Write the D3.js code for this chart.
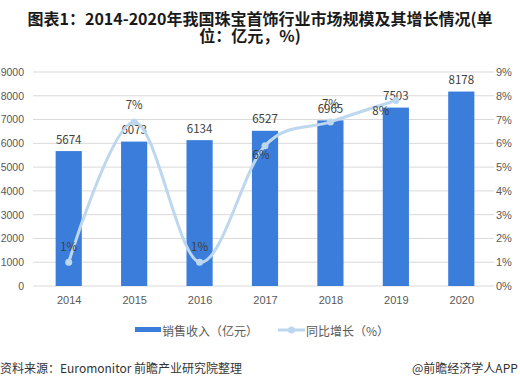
<!DOCTYPE html>
<html>
<head>
<meta charset="utf-8">
<script src="https://cdn.jsdelivr.net/npm/d3@7"></script>
<style>
  body { margin: 0; background: #fff; }
  svg { display: block; font-family: "Noto Sans CJK SC", "Noto Sans", sans-serif; }
</style>
</head>
<body>
<div id="chart"></div>
<script>
// chart data
const years = ['2014', '2015', '2016', '2017', '2018', '2019', '2020'];
const revenue = [5674, 6073, 6134, 6527, 6965, 7503, 8178];
const growth = [1.0, 6.9, 1.0, 5.9, 6.9, 7.8];
const growthLabels = ['1%', '7%', '1%', '6%', '7%', '8%'];
const leftTicks = [0, 1000, 2000, 3000, 4000, 5000, 6000, 7000, 8000, 9000];
const rightTicks = [0, 1, 2, 3, 4, 5, 6, 7, 8, 9];

const width = 520, height = 387;
const plot = { left: 36, right: 494, top: 72, bottom: 286 };

const svg = d3.select('#chart').append('svg')
    .attr('width', width)
    .attr('height', height);

// title
const title = svg.append('text')
    .attr('text-anchor', 'middle')
    .attr('font-size', 16)
    .attr('font-weight', 'bold')
    .attr('fill', '#1a1a1a');
title.append('tspan').attr('x', 260).attr('y', 25).text('图表1：2014-2020年我国珠宝首饰行业市场规模及其增长情况(单');
title.append('tspan').attr('x', 250).attr('y', 42).text('位：亿元，%)');

let x = d3.scalePoint().domain(years).range([plot.left, plot.right]).padding(0.5);
let y = d3.scaleLinear().domain([0, 9000]).range([plot.bottom, plot.top]);
let y2 = d3.scaleLinear().domain([0, 9]).range([plot.bottom, plot.top]);
let barW = x.step() * 0.4;

// gridlines
svg.append('g').selectAll('line').data(leftTicks).enter().append('line')
    .attr('x1', 33).attr('x2', plot.right)
    .attr('y1', d => y(d)).attr('y2', d => y(d))
    .attr('stroke', '#d9d9d9').attr('stroke-width', 1);

// left axis
let yAxis = d3.axisLeft(y).tickValues(leftTicks).tickFormat(d3.format('d')).tickSize(0).tickPadding(0);
let gl = svg.append('g').attr('transform', 'translate(24,0)').call(yAxis);
gl.select('.domain').remove();
gl.selectAll('text').attr('font-size', 10.5).attr('fill', '#595959').attr('font-family', 'inherit');

// right axis
let y2Axis = d3.axisRight(y2).tickValues(rightTicks).tickFormat(d => d + '%').tickSize(0).tickPadding(0);
let gr = svg.append('g').attr('transform', 'translate(496,0)').call(y2Axis);
gr.select('.domain').remove();
gr.selectAll('text').attr('font-size', 11).attr('fill', '#595959').attr('font-family', 'inherit');

// x axis
let xAxis = d3.axisBottom(x).tickSize(0).tickPadding(10);
let gx = svg.append('g').attr('transform', 'translate(0,' + plot.bottom + ')').call(xAxis);
gx.select('.domain').remove();
gx.selectAll('text').attr('font-size', 11).attr('fill', '#595959').attr('font-family', 'inherit');

// bars
svg.append('g').selectAll('rect').data(revenue).enter().append('rect')
    .attr('x', (d, i) => x(years[i]) - barW / 2)
    .attr('y', d => y(d))
    .attr('width', barW)
    .attr('height', d => plot.bottom - y(d))
    .attr('fill', '#3b7ddb');

svg.append('g').selectAll('text').data(revenue).enter().append('text')
    .attr('x', (d, i) => x(years[i]))
    .attr('y', d => y(d) - 12.5)
    .attr('dominant-baseline', 'central')
    .attr('text-anchor', 'middle')
    .attr('font-size', 11.5)
    .attr('fill', '#404040')
    .text(d => d);

// growth line
let line = d3.line()
    .x((d, i) => x(years[i]))
    .y(d => y2(d))
    .curve(d3.curveCardinal.tension(0));

svg.append('path')
    .datum(growth)
    .attr('d', line)
    .attr('fill', 'none')
    .attr('stroke', '#bdd7ee')
    .attr('stroke-width', 3);

svg.append('g').selectAll('circle').data(growth).enter().append('circle')
    .attr('cx', (d, i) => x(years[i]))
    .attr('cy', d => y2(d))
    .attr('r', 3.5)
    .attr('fill', '#bdd7ee');

// label offsets for growth values (dx, dy) as placed in the reference
const labelOffsets = [[0, -16], [0, -18], [0, -16], [-4, 8], [0, -19], [-15, 9]];
svg.append('g').selectAll('text').data(growth).enter().append('text')
    .attr('x', (d, i) => x(years[i]) + labelOffsets[i][0])
    .attr('y', (d, i) => y2(d) + labelOffsets[i][1])
    .attr('dominant-baseline', 'central')
    .attr('text-anchor', 'middle')
    .attr('font-size', 11.5)
    .attr('fill', '#404040')
    .text((d, i) => growthLabels[i]);

// legend
let lg = svg.append('g').attr('font-size', 12).attr('fill', '#595959');
lg.append('rect').attr('x', 135).attr('y', 327).attr('width', 26).attr('height', 5).attr('fill', '#3b7ddb');
lg.append('text').attr('x', 162).attr('y', 330).attr('dominant-baseline', 'central').text('销售收入（亿元）');
lg.append('line').attr('x1', 278).attr('x2', 305).attr('y1', 330).attr('y2', 330)
    .attr('stroke', '#bdd7ee').attr('stroke-width', 3);
lg.append('circle').attr('cx', 291.5).attr('cy', 330).attr('r', 3.5).attr('fill', '#bdd7ee');
lg.append('text').attr('x', 306).attr('y', 330).attr('dominant-baseline', 'central').text('同比增长（%）');

// footer
svg.append('text').attr('x', 0).attr('y', 367).attr('dominant-baseline', 'central')
    .attr('font-size', 12).attr('fill', '#333')
    .text('资料来源：Euromonitor 前瞻产业研究院整理');
svg.append('text').attr('x', 412).attr('y', 367).attr('dominant-baseline', 'central')
    .attr('font-size', 12).attr('fill', '#333')
    .text('@前瞻经济学人APP');
</script>
</body>
</html>
